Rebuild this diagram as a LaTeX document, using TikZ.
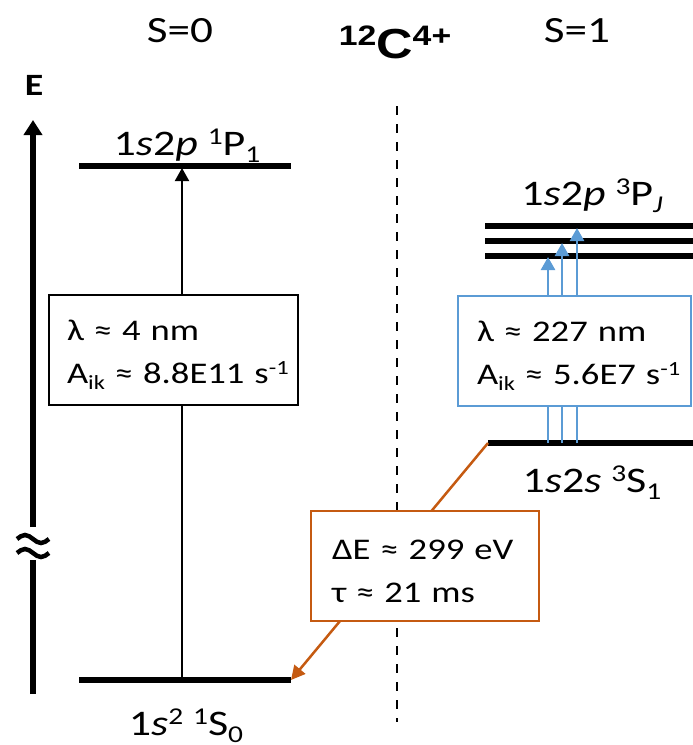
\documentclass[tikz,border=0pt]{standalone}
\usepackage{fontspec}
\setmainfont{Carlito}[FakeStretch=1.22]
\newfontfamily\ionfont{Liberation Sans}[FakeStretch=1.2]
\usetikzlibrary{arrows.meta}
\definecolor{tripletblue}{HTML}{5B9BD5}
\definecolor{decayorange}{HTML}{C55A11}
\newcommand{\spr}[1]{\raisebox{0.3em}{\scalebox{0.67}{#1}}}
\newcommand{\sbr}[1]{\raisebox{-0.22em}{\scalebox{0.67}{#1}}}
\newcommand{\boxstrut}{\rule{0pt}{30pt}}

\begin{document}
\begin{tikzpicture}[x=1pt,y=-1pt,
    level/.style={line width=6pt},
    infobox/.style={draw,line width=2pt,fill=white,minimum height=110pt,
      inner xsep=18pt,align=left,font=\fontsize{30}{43}\selectfont},
    statelabel/.style={anchor=base,font=\fontsize{36}{43}\selectfont},
    toplabel/.style={anchor=base,font=\fontsize{37}{44}\selectfont},
    bluearrow/.style={tripletblue,line width=2.5pt,-{Triangle[length=13pt,width=14pt]}},
    decay/.style={decayorange,line width=2.5pt,-{Triangle[length=14pt,width=14pt]}}]
    \useasboundingbox (0,0) rectangle (693,745);
    % spin separator
    \coordinate (dtop) at (397,106);
    \coordinate (dbot) at (397,722);
    \draw[line width=2.5pt,dash pattern=on 9pt off 9pt] (dtop) -- (dbot);
    % energy axis with break
    \coordinate (Ebot) at (33,694);
    \coordinate (Ebrk1) at (33,560);
    \coordinate (Ebrk2) at (33,527);
    \coordinate (Etop) at (33,120);
    \draw[line width=6pt] (Ebot) -- (Ebrk1);
    \draw[line width=6pt,-{Triangle[length=15pt,width=18pt]}] (Ebrk2) -- (Etop);
    \draw[line width=4.5pt] (17,539) sin (25,535) cos (33,539) sin (41,543) cos (49,539);
    \draw[line width=4.5pt] (17,553) sin (25,549) cos (33,553) sin (41,557) cos (49,553);
    % levels
    \coordinate (P1w) at (79,166);
    \coordinate (P1e) at (291,166);
    \coordinate (S0w) at (79,680);
    \coordinate (S0e) at (291,680);
    \coordinate (S1w) at (488,443);
    \coordinate (S1e) at (693,443);
    \draw[level] (P1w) -- (P1e);
    \draw[level] (S0w) -- (S0e);
    \draw[level] (S1w) -- (S1e);
    \foreach \y [count=\j] in {256,241,226} {
      \coordinate (P3w\j) at (485,\y);
      \coordinate (P3e\j) at (693,\y);
      \draw[level] (P3w\j) -- (P3e\j);
    }
    % transitions
    \coordinate (exlo) at (182,680);
    \coordinate (exhi) at (182,168);
    \draw[line width=2pt,-{Triangle[length=13pt,width=14pt]}] (exlo) -- (exhi);
    \foreach \x/\y [count=\j] in {548/257,562/243,577/228} {
      \coordinate (lo\j) at (\x,443);
      \coordinate (hi\j) at (\x,\y);
      \draw[bluearrow] (lo\j) -- (hi\j);
    }
    \draw[decay] (S1w) -- (S0e);
    % boxes
    \node[infobox,text width=213pt] (singbox) at (173.5,350)
      {\mbox{\boxstrut λ ≈ 4 nm}\\\mbox{A\sbr{ik} ≈ 8.8E11 s\spr{-1}}};
    \node[infobox,draw=tripletblue,text width=195pt,inner xsep=19pt] (tripbox) at (574.5,351)
      {\mbox{\boxstrut λ ≈ 227 nm}\\\mbox{A\sbr{ik} ≈ 5.6E7 s\spr{-1}}};
    \node[infobox,draw=decayorange,text width=186pt,inner xsep=21pt] (decaybox) at (425,566)
      {\mbox{\boxstrut ΔE ≈ 299 eV}\\\mbox{τ ≈ 21 ms}};
    % labels
    \node[toplabel] (spin0) at (180,42) {S=0};
    \node[toplabel] (spin1) at (577,42) {S=1};
    \node[anchor=base,font=\ionfont\bfseries\fontsize{42}{50}\selectfont] (ion) at (395,58)
      {\spr{12}C\spr{4+}};
    \node[anchor=base,font=\bfseries\fontsize{31}{37}\selectfont] (Elab) at (34,95) {E};
    \node[statelabel] (P1lab) at (187,155) {1\textit{s}2\textit{p} \spr{1}P\sbr{1}};
    \node[statelabel] (P3lab) at (592,205) {1\textit{s}2\textit{p} \spr{3}P\sbr{\textit{J}}};
    \node[statelabel] (S1lab) at (592,492) {1\textit{s}2\textit{s} \spr{3}S\sbr{1}};
    \node[statelabel] (S0lab) at (186,735) {1\textit{s}\spr{2} \spr{1}S\sbr{0}};
  \end{tikzpicture}
\end{document}
